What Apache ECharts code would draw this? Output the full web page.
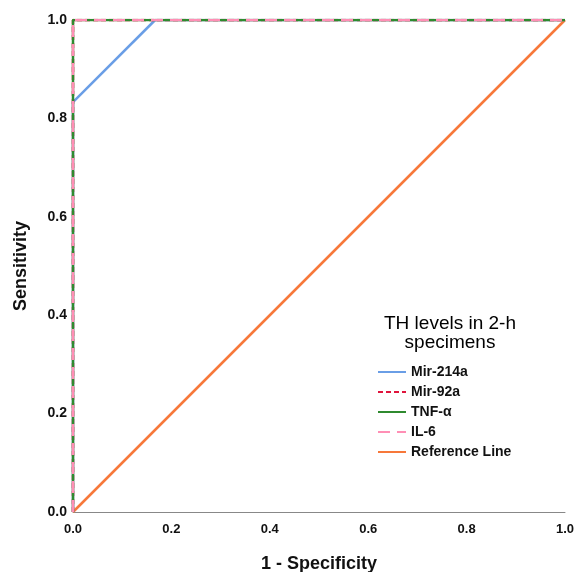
<!DOCTYPE html>
<html>
<head>
<meta charset="utf-8">
<script src="https://cdn.jsdelivr.net/npm/echarts@6/dist/echarts.min.js"></script>
<style>
  html, body { margin: 0; padding: 0; background: #fff; }
  #chart { width: 580px; height: 572px; }
</style>
</head>
<body>
<div id="chart"></div>
<script>
  // ROC points
  let fprMir214 = [0, 0, 0.167, 1]
  let tprMir214 = [0, 0.833, 1, 1]
  let fprPerfect = [0, 0, 1]
  let tprPerfect = [0, 1, 1]
  let fprRef = [0, 1]
  let tprRef = [0, 1]
  let seriesNames = ['Mir-214a', 'Mir-92a', 'TNF-α', 'IL-6', 'Reference Line']
  let colors = ['#6a9ee6', '#e0143c', '#2f8a2f', '#ff8fb5', '#f7783a']

  function pairs(xs, ys) {
    return xs.map(function (x, i) { return [x, ys[i]] })
  }

  function rocLine(idx, xs, ys, dash, z) {
    return {
      name: seriesNames[idx], type: 'line', symbol: 'none', z: z,
      itemStyle: { color: colors[idx] },
      lineStyle: { color: colors[idx], width: 2.5, type: dash },
      data: pairs(xs, ys)
    }
  }

  let elChart = echarts.init(document.getElementById('chart'))
  let font = 'Liberation Sans'

  let optionData = {
    animation: false,
    textStyle: { fontFamily: font },
    grid: { left: 73, right: 15, top: 20, bottom: 60, outerBoundsMode: 'none' },
    graphic: [{
      type: 'text',
      x: 450,
      y: 314,
      style: {
        text: 'TH levels in 2-h\nspecimens',
        align: 'center',
        font: '19px "Liberation Sans"',
        fill: '#000',
        lineHeight: 19
      }
    }],
    legend: {
      orient: 'vertical',
      left: 377,
      top: 365,
      padding: 0,
      itemWidth: 28,
      itemHeight: 14,
      itemGap: 6,
      data: seriesNames,
      itemStyle: { opacity: 0 },
      textStyle: { fontFamily: font, fontSize: 14, fontWeight: 'bold', color: '#111' }
    },
    xAxis: {
      type: 'value',
      min: 0,
      max: 1,
      interval: 0.2,
      name: '1 - Specificity',
      nameLocation: 'middle',
      nameGap: 43,
      nameTextStyle: { fontFamily: font, fontSize: 18, fontWeight: 'bold', color: '#111' },
      axisLine: { show: true, lineStyle: { color: '#888', width: 1 } },
      axisTick: { show: false },
      splitLine: { show: false },
      axisLabel: {
        margin: 11,
        fontSize: 13,
        fontWeight: 'bold',
        color: '#111',
        formatter: function (v) { return v.toFixed(1) }
      }
    },
    yAxis: {
      type: 'value',
      min: 0,
      max: 1,
      interval: 0.2,
      name: 'Sensitivity',
      nameLocation: 'middle',
      nameGap: 43,
      nameTextStyle: { fontFamily: font, fontSize: 18, fontWeight: 'bold', color: '#111' },
      axisLine: { show: false },
      axisTick: { show: false },
      splitLine: { show: false },
      axisLabel: {
        margin: 6,
        fontSize: 14,
        fontWeight: 'bold',
        color: '#111',
        formatter: function (v) { return v.toFixed(1) }
      }
    },
    series: [
      rocLine(4, fprRef, tprRef, 'solid', 1),
      rocLine(0, fprMir214, tprMir214, 'solid', 2),
      rocLine(1, fprPerfect, tprPerfect, [5, 3], 3),
      rocLine(2, fprPerfect, tprPerfect, 'solid', 4),
      rocLine(3, fprPerfect, tprPerfect, [12, 7], 5)
    ]
  }

  elChart.setOption(optionData)
</script>
</body>
</html>
